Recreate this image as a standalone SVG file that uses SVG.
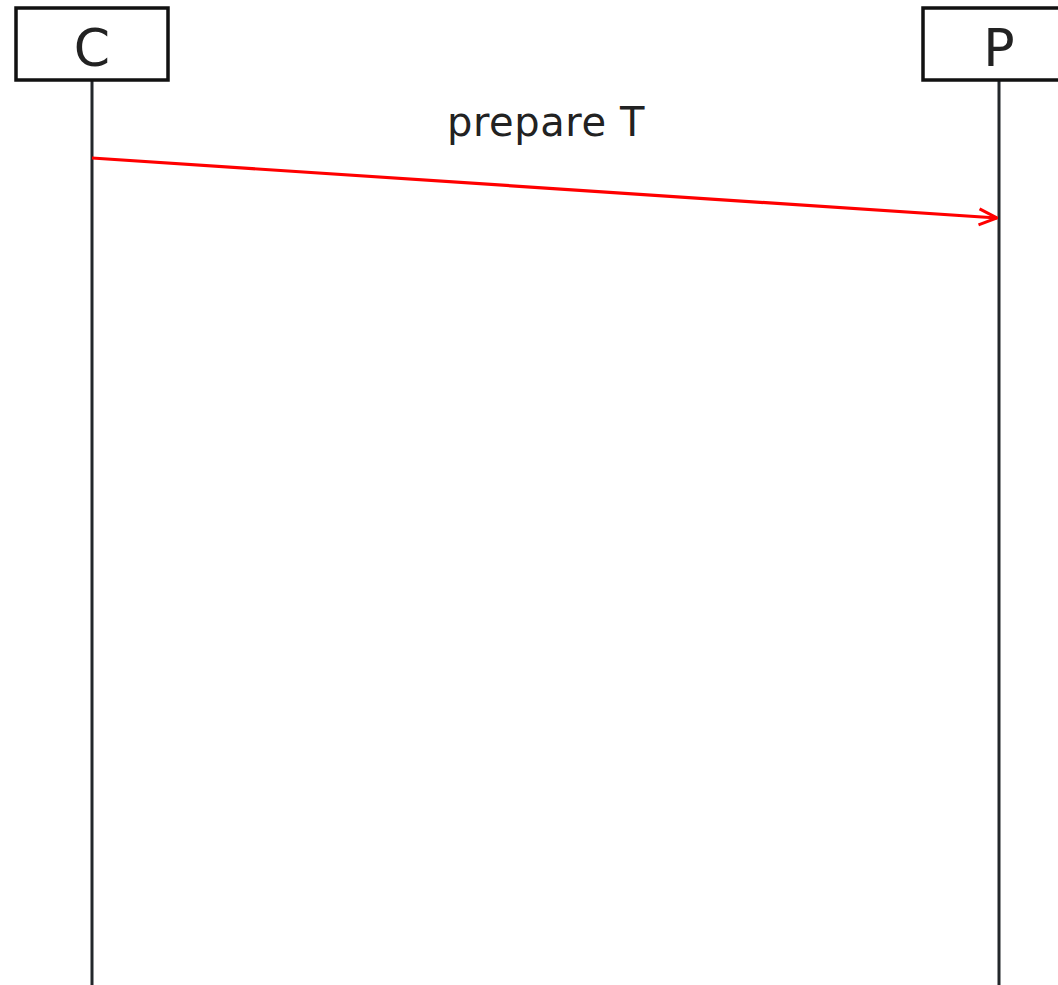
<svg xmlns="http://www.w3.org/2000/svg" width="1058" height="985" viewBox="0 0 1058 985">
<defs>
<style>
.box{fill:#fff;stroke:#111;stroke-width:3.5}
.life{stroke:#23272b;stroke-width:3}
.lbl{font-family:"DejaVu Sans",sans-serif;fill:#222;text-anchor:middle}
.msg{stroke:#ff0000;stroke-width:3.2;fill:none}
</style>
<marker id="open" viewBox="0 0 20 20" refX="19" refY="10" markerWidth="20" markerHeight="20" markerUnits="userSpaceOnUse" orient="auto">
<path d="M1,2 L19,10 L1,18" fill="none" stroke="#ff0000" stroke-width="3"/>
</marker>
</defs>
<rect width="1058" height="985" fill="#fff"/>
<g id="C">
<line class="life" x1="92" y1="80" x2="92" y2="985"/>
<rect class="box" x="16" y="8" width="152" height="72"/>
<text class="lbl" x="92" y="66" font-size="52">C</text>
</g>
<g id="P">
<line class="life" x1="999" y1="80" x2="999" y2="985"/>
<rect class="box" x="923" y="8" width="152" height="72"/>
<text class="lbl" x="999" y="66" font-size="52">P</text>
</g>
<g id="connectors">
<line class="msg" x1="92" y1="158" x2="997" y2="218" marker-end="url(#open)"/>
<text class="lbl" x="546" y="136" font-size="40" letter-spacing="0.6">prepare T</text>
</g>
</svg>
